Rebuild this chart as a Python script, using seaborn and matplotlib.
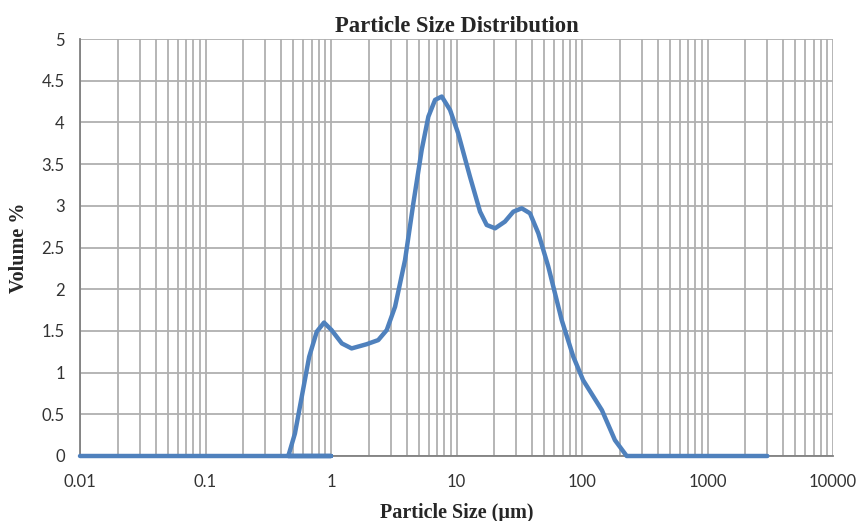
import matplotlib
matplotlib.use("Agg")
import matplotlib.pyplot as plt
import matplotlib.ticker as mticker
import seaborn as sns
import pandas as pd
import numpy as np

# Data (Excel-style series; baseline first, then the curve)
size_um = [0.01, 1.0, 0.457, 0.516, 0.67, 0.77, 0.88, 1.01, 1.22, 1.46, 1.92, 2.38, 2.78,
           3.24, 3.89, 4.53, 5.28, 5.97, 6.75, 7.63, 8.88, 10.3, 12.8, 15.4, 17.4,
           20.3, 24.3, 28.4, 33.1, 38.5, 44.9, 53.9, 68.9, 85.3, 102, 144, 183, 227, 3000]
volume_pct = [0.0, 0.0, 0.0, 0.27, 1.19, 1.49, 1.60, 1.51, 1.35, 1.29, 1.34, 1.39, 1.51,
              1.79, 2.35, 3.03, 3.67, 4.07, 4.27, 4.31, 4.15, 3.87, 3.35, 2.93, 2.77,
              2.73, 2.81, 2.93, 2.97, 2.91, 2.67, 2.27, 1.63, 1.19, 0.91, 0.55, 0.19, 0.0, 0.0]

x_ticks = [0.01, 0.1, 1, 10, 100, 1000, 10000]
x_tick_labels = ["0.01", "0.1", "1", "10", "100", "1000", "10000"]
y_ticks = [0, 0.5, 1, 1.5, 2, 2.5, 3, 3.5, 4, 4.5, 5]
y_tick_labels = ["0", "0.5", "1", "1.5", "2", "2.5", "3", "3.5", "4", "4.5", "5"]

df = pd.DataFrame({"size": size_um, "vol": volume_pct})

sns.set_style("white")
plt.rcParams["font.family"] = ["Lato", "DejaVu Sans"]

fig = plt.figure(figsize=(8.59, 5.21), dpi=100)
ax = fig.add_axes([80 / 859, 1 - 456 / 521, (833 - 80) / 859, (456 - 39) / 521])

grid_c = "#b0b0b0"
ax.set_xscale("log")
ax.set_xlim(0.01, 10000)
ax.set_ylim(0, 5)

ax.xaxis.set_minor_locator(mticker.LogLocator(base=10, subs=np.arange(2, 10)))
ax.xaxis.set_minor_formatter(mticker.NullFormatter())
ax.set_xticks(x_ticks)
ax.set_xticklabels(x_tick_labels)
ax.set_yticks(y_ticks)
ax.set_yticklabels(y_tick_labels)

ax.grid(True, which="major", axis="both", color=grid_c, linewidth=1.3)
ax.grid(True, which="minor", axis="x", color=grid_c, linewidth=1.3)
ax.set_axisbelow(True)

sns.lineplot(data=df, x="size", y="vol", sort=False, estimator=None,
             color="#4F81BD", linewidth=3.2, ax=ax, clip_on=False, zorder=3,
             solid_joinstyle="round", solid_capstyle="round")

for s in ["top", "right"]:
    ax.spines[s].set_visible(False)
for s in ["left", "bottom"]:
    ax.spines[s].set_color("#808080")
    ax.spines[s].set_linewidth(1.3)

ax.tick_params(axis="both", which="major", direction="out", length=5, width=1.2,
               color="#808080", labelsize=12, labelcolor="#333333", pad=8)
ax.tick_params(axis="x", which="minor", length=0)
ax.tick_params(axis="y", pad=6)

serif = ["Liberation Serif", "DejaVu Serif"]
ax.set_title("Particle Size Distribution", fontsize=16.3, fontweight="bold",
             family=serif, pad=5)
ax.set_xlabel("Particle Size (µm)", fontsize=14.5, fontweight="bold", family=serif,
              labelpad=9)
ax.set_ylabel("Volume %", fontsize=14.5, fontweight="bold", family=serif, labelpad=9)

fig.savefig("out.png", dpi=100)
